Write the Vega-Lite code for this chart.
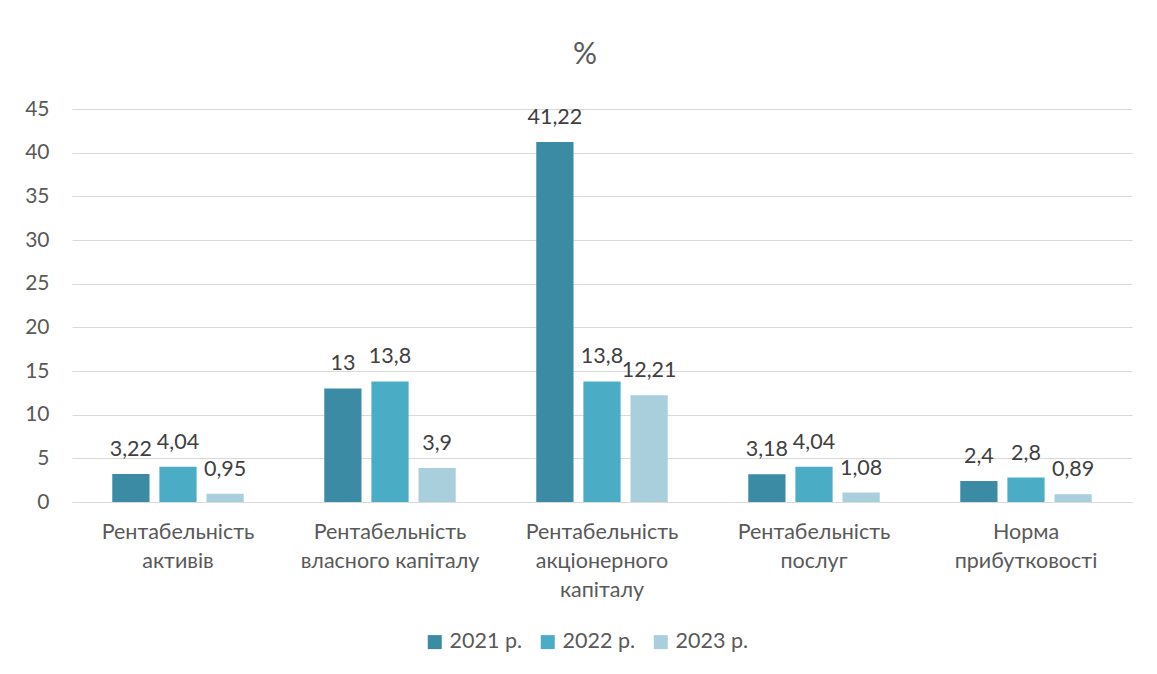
{
  "$schema": "https://vega.github.io/schema/vega-lite/v6.json",
  "width": 1060,
  "height": 393,
  "autosize": {"type": "none"},
  "padding": {"left": 72, "top": 109, "right": 25, "bottom": 172},
  "background": "white",
  "title": {"text": "%", "fontSize": 30, "font": "Lato", "color": "#595959", "fontWeight": "normal", "offset": 28, "dx": -17},
  "config": {
    "font": "Lato",
    "view": {"stroke": null}
  },
  "data": {
    "values": [
      {"cat": "Рентабельність|активів", "ord": 1, "year": "2021 р.", "value": 3.22},
      {"cat": "Рентабельність|активів", "ord": 1, "year": "2022 р.", "value": 4.04},
      {"cat": "Рентабельність|активів", "ord": 1, "year": "2023 р.", "value": 0.95},
      {"cat": "Рентабельність|власного капіталу", "ord": 2, "year": "2021 р.", "value": 13},
      {"cat": "Рентабельність|власного капіталу", "ord": 2, "year": "2022 р.", "value": 13.8},
      {"cat": "Рентабельність|власного капіталу", "ord": 2, "year": "2023 р.", "value": 3.9},
      {"cat": "Рентабельність|акціонерного|капіталу", "ord": 3, "year": "2021 р.", "value": 41.22},
      {"cat": "Рентабельність|акціонерного|капіталу", "ord": 3, "year": "2022 р.", "value": 13.8},
      {"cat": "Рентабельність|акціонерного|капіталу", "ord": 3, "year": "2023 р.", "value": 12.21},
      {"cat": "Рентабельність|послуг", "ord": 4, "year": "2021 р.", "value": 3.18},
      {"cat": "Рентабельність|послуг", "ord": 4, "year": "2022 р.", "value": 4.04},
      {"cat": "Рентабельність|послуг", "ord": 4, "year": "2023 р.", "value": 1.08},
      {"cat": "Норма|прибутковості", "ord": 5, "year": "2021 р.", "value": 2.4},
      {"cat": "Норма|прибутковості", "ord": 5, "year": "2022 р.", "value": 2.8},
      {"cat": "Норма|прибутковості", "ord": 5, "year": "2023 р.", "value": 0.89}
    ]
  },
  "encoding": {
    "x": {
      "field": "cat", "type": "nominal",
      "sort": {"field": "ord"},
      "scale": {"paddingInner": 0.38, "paddingOuter": 0.19},
      "axis": {
        "title": null, "labelAngle": 0, "ticks": false,
        "labelExpr": "split(datum.label, '|')",
        "labelFontSize": 21.5, "labelColor": "#595959", "labelLineHeight": 29,
        "labelPadding": 19, "domainColor": "#D9D9D9", "labelLimit": 300
      }
    },
    "xOffset": {"field": "year", "type": "nominal", "scale": {"paddingInner": 0.21}},
    "y": {
      "field": "value", "type": "quantitative",
      "scale": {"domain": [0, 45], "nice": false},
      "axis": {
        "title": null, "values": [0, 5, 10, 15, 20, 25, 30, 35, 40, 45],
        "ticks": false, "domain": false, "gridColor": "#D9D9D9",
        "labelFontSize": 21, "labelColor": "#595959", "labelPadding": 23
      }
    }
  },
  "layer": [
    {
      "mark": {"type": "bar"},
      "encoding": {
        "color": {
          "field": "year", "type": "nominal",
          "scale": {"range": ["#3A8BA3", "#4BACC6", "#A9CFDD"]},
          "legend": {
            "title": null, "orient": "none", "direction": "horizontal",
            "legendX": 352, "legendY": 522,
            "symbolType": "square", "symbolSize": 196, "symbolStrokeWidth": 0,
            "labelFontSize": 21.5, "labelColor": "#595959", "columnPadding": 15, "labelOffset": 4
          }
        }
      }
    },
    {
      "mark": {
        "type": "text", "baseline": "bottom", "dy": -13, "fontSize": 21.5, "color": "#404040",
        "text": {"expr": "replace(format(datum.value, '~g'), '.', ',')"}
      }
    }
  ]
}
